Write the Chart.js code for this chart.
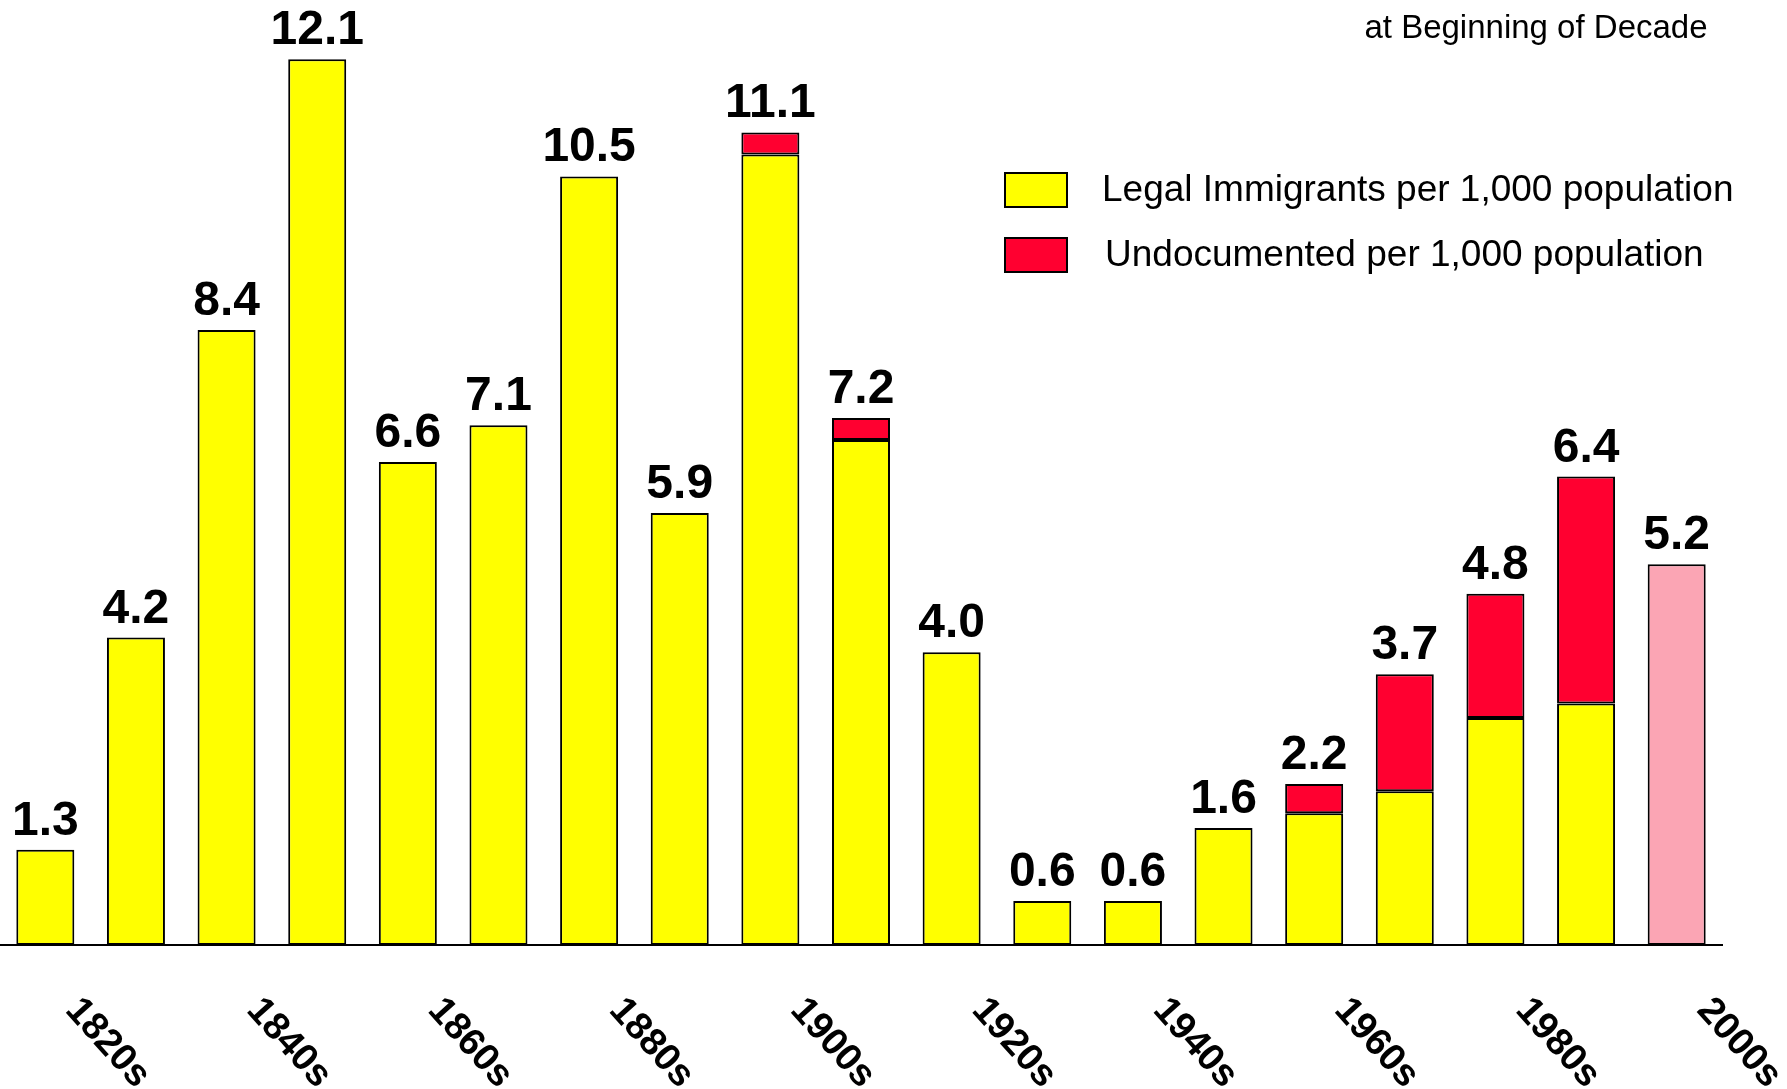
<!DOCTYPE html>
<html>
<head>
<meta charset="utf-8">
<title>Immigration rate by decade</title>
<script src="https://cdn.jsdelivr.net/npm/chart.js@4.4.1/dist/chart.umd.min.js"></script>
<style>
  html, body { margin: 0; padding: 0; background: #fff; }
  #wrap { width: 1787px; height: 1089px; position: relative; }
</style>
</head>
<body>
<div id="wrap"><canvas id="chartCanvas"></canvas></div>
<script>
// decades (only every other one gets a label on the axis)
const decades = ['1820s', '1830s', '1840s', '1850s', '1860s', '1870s', '1880s', '1890s', '1900s', '1910s',
                 '1920s', '1930s', '1940s', '1950s', '1960s', '1970s', '1980s', '1990s', '2000s'];

// legal immigrants per 1,000 population (yellow part)
const legal = [1.3, 4.2, 8.4, 12.1, 6.6, 7.1, 10.5, 5.9, 10.8, 6.9,
               4.0, 0.6, 0.6, 1.6, 1.8, 2.1, 3.1, 3.3, null];

// undocumented per 1,000 population (red part)
const undocumented = [null, null, null, null, null, null, null, null, 0.3, 0.3,
                      null, null, null, null, 0.4, 1.6, 1.7, 3.1, null];

// 2000s total, shown as one pink bar
const estimate2000s = [null, null, null, null, null, null, null, null, null, null,
                       null, null, null, null, null, null, null, null, 5.2];

// numbers printed above the bars
const totalLabels = ['1.3', '4.2', '8.4', '12.1', '6.6', '7.1', '10.5', '5.9', '11.1', '7.2',
                     '4.0', '0.6', '0.6', '1.6', '2.2', '3.7', '4.8', '6.4', '5.2'];

const legendTitle = 'at Beginning of Decade';

const FONT = '"Liberation Sans", Arial, Helvetica, sans-serif';

// value labels on top of each stack
const totalsPlugin = {
  id: 'totals',
  afterDatasetsDraw(chart) {
    const ctx = chart.ctx;
    const x = chart.scales.x;
    const y = chart.scales.y;
    ctx.save();
    ctx.font = `bold 48px ${FONT}`;
    ctx.fillStyle = '#000';
    ctx.textAlign = 'center';
    ctx.textBaseline = 'alphabetic';
    totalLabels.forEach((txt, i) => {
      const top = (legal[i] || 0) + (undocumented[i] || 0) + (estimate2000s[i] || 0);
      ctx.fillText(txt, x.getPixelForValue(i), y.getPixelForValue(top) - 15);
    });
    ctx.restore();
  }
};

// slanted decade labels, every second category
const slantLabels = {
  id: 'slantLabels',
  afterDraw(chart) {
    const ctx = chart.ctx;
    const x = chart.scales.x;
    ctx.save();
    ctx.font = `bold 38px ${FONT}`;
    ctx.fillStyle = '#000';
    ctx.textAlign = 'left';
    ctx.textBaseline = 'alphabetic';
    decades.forEach((d, i) => {
      if (i % 2) return;
      ctx.save();
      ctx.translate(x.getPixelForValue(i) + 19, x.top + 66);
      ctx.rotate(48 * Math.PI / 180);
      ctx.fillText(d, 0, 0);
      ctx.restore();
    });
    ctx.restore();
  }
};

// legend box in the upper right, plus the caption line above it
const cornerLegend = {
  id: 'cornerLegend',
  afterDraw(chart) {
    const ctx = chart.ctx;
    ctx.save();
    ctx.font = `33px ${FONT}`;
    ctx.fillStyle = '#000';
    ctx.textAlign = 'center';
    ctx.textBaseline = 'alphabetic';
    ctx.fillText(legendTitle, 1536, 38);

    ctx.font = `37px ${FONT}`;
    ctx.textAlign = 'left';
    ctx.textBaseline = 'middle';
    const rows = [[0, 173, 1102], [1, 238, 1105]];
    rows.forEach(([di, top, tx]) => {
      const ds = chart.data.datasets[di];
      ctx.fillStyle = ds.backgroundColor;
      ctx.fillRect(1005, top, 62, 34);
      ctx.lineWidth = 2;
      ctx.strokeStyle = '#000';
      ctx.strokeRect(1005, top, 62, 34);
      ctx.fillStyle = '#000';
      ctx.fillText(ds.label, tx, top + 18);
    });
    ctx.restore();
  }
};

const ctx = document.getElementById('chartCanvas').getContext('2d');
new Chart(ctx, {
  type: 'bar',
  data: {
    labels: decades,
    datasets: [
      {
        label: 'Legal Immigrants per 1,000 population',
        data: legal,
        backgroundColor: '#FFFF00',
        borderColor: '#000',
        borderWidth: 2,
        borderSkipped: false,
        stack: 's'
      },
      {
        label: 'Undocumented per 1,000 population',
        data: undocumented,
        backgroundColor: '#FF0030',
        borderColor: '#000',
        borderWidth: 2,
        borderSkipped: false,
        stack: 's'
      },
      {
        label: '2000s',
        data: estimate2000s,
        backgroundColor: '#FBA5B4',
        borderColor: '#000',
        borderWidth: 2,
        borderSkipped: false,
        stack: 's'
      }
    ]
  },
  options: {
    responsive: true,
    maintainAspectRatio: false,
    animation: false,
    devicePixelRatio: 1,
    layout: { padding: { top: 30, right: 65, bottom: 144, left: 0 } },
    datasets: { bar: { barPercentage: 0.64, categoryPercentage: 1 } },
    plugins: {
      legend: { display: false },
      tooltip: { enabled: false }
    },
    scales: {
      x: {
        stacked: true,
        grid: { display: false, drawTicks: false },
        ticks: { display: false },
        border: { display: true, color: '#000', width: 2 }
      },
      y: {
        stacked: true,
        display: false,
        min: 0,
        max: 12.5
      }
    }
  },
  plugins: [totalsPlugin, slantLabels, cornerLegend]
});
</script>
</body>
</html>
